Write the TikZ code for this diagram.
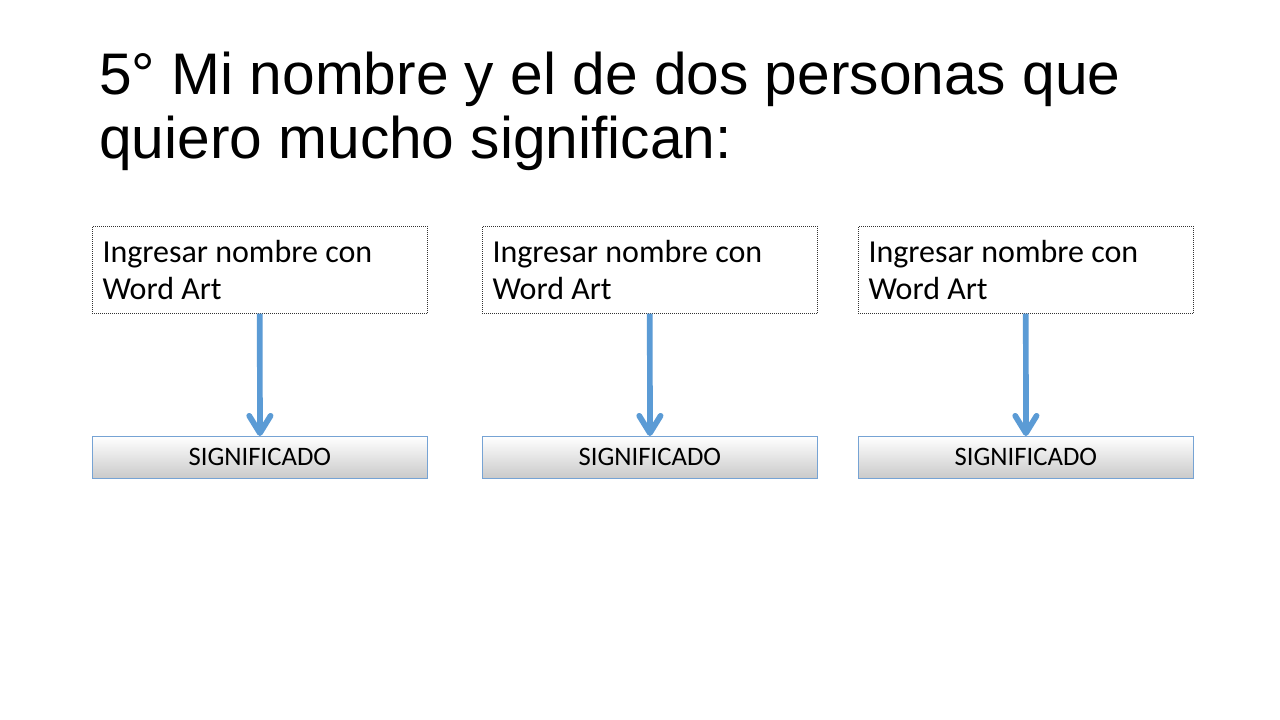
\documentclass[tikz,border=0pt]{standalone}
\usepackage{fontspec}
\setmainfont{Carlito}
\newfontfamily\titlefont{Liberation Sans}
\usetikzlibrary{arrows.meta}
\definecolor{arrowblue}{RGB}{91,155,213}
\definecolor{boxblue}{RGB}{118,163,212}
\tikzset{
	namebox/.style={draw=black!80,densely dotted,line width=0.5pt,anchor=north west,inner sep=0pt,
		minimum width=251.25pt,minimum height=65.25pt,text width=236pt,align=flush left,
		font=\fontsize{24}{28}\selectfont},
	meaningbox/.style={draw=boxblue,line width=0.6pt,anchor=north west,inner sep=0pt,
		minimum width=251.25pt,minimum height=31.5pt,
		top color=white,middle color=white,bottom color=gray!42,
		font=\fontsize{20}{24}\selectfont},
	downarrow/.style={draw=arrowblue,line width=4.3pt,
		-{Straight Barb[length=13pt,width=16pt,round]}},
}
\begin{document}
\begin{tikzpicture}[x=0.75pt,y=-0.75pt]
	\useasboundingbox[fill=white] (0,0) rectangle (1280,720);
	\node[anchor=north west,inner sep=0pt,align=left,
		font=\titlefont\fontsize{44}{48}\selectfont] (title) at (99,52)
		{5° Mi nombre y el de dos personas que\\quiero mucho significan:};
	% nombres
	\node[namebox] (name1) at (92,226) {Ingresar nombre con\\Word Art};
	\node[namebox] (name2) at (482,226) {Ingresar nombre con\\Word Art};
	\node[namebox] (name3) at (858,226) {Ingresar nombre con\\Word Art};
	% significados
	\node[meaningbox] (mean1) at (92,436) {SIGNIFICADO};
	\node[meaningbox] (mean2) at (482,436) {SIGNIFICADO};
	\node[meaningbox] (mean3) at (858,436) {SIGNIFICADO};
	\draw[downarrow] (name1.south) -- (mean1.north);
	\draw[downarrow] (name2.south) -- (mean2.north);
	\draw[downarrow] (name3.south) -- (mean3.north);
\end{tikzpicture}
\end{document}
